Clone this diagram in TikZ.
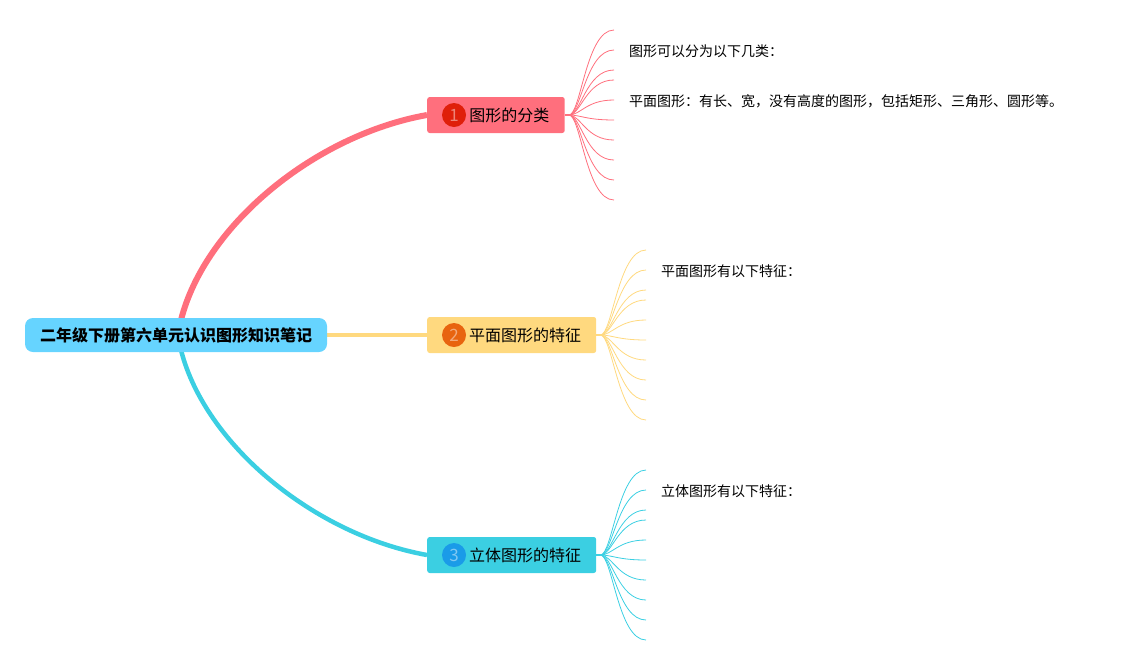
\documentclass[tikz,border=0pt]{standalone}
\usepackage{fontspec}
\setmainfont{Noto Sans CJK SC}
\definecolor{rootblue}{HTML}{66D4FF}
\definecolor{pinkline}{HTML}{FF6F7D}
\definecolor{yellowline}{HTML}{FFD97F}
\definecolor{cyanline}{HTML}{3BCFE2}
\definecolor{pinkdot}{HTML}{DF1F0A}
\definecolor{yellowdot}{HTML}{E8640F}
\definecolor{cyandot}{HTML}{1A9BE8}
\newcommand{\dn}[1]{\raisebox{-1pt}{#1}}
\tikzset{
    rootbox/.style={fill=rootblue, rounded corners=8pt, minimum width=302pt, minimum height=34pt, inner sep=0pt, font=\fontsize{16}{16}\selectfont\bfseries},
    branchbox/.style={fill=#1, rounded corners=2.5pt, minimum height=36pt, inner xsep=15pt, inner ysep=0pt, anchor=west, font=\fontsize{16}{16}\selectfont},
    numdot/.style={circle, fill=#1, minimum size=24pt, inner sep=0pt, text=white!45!#1, font=\fontsize{17}{17}\selectfont},
    leaftext/.style={anchor=west, inner xsep=15pt, inner ysep=0pt, yshift=-1pt, font=\fontsize{14}{15}\selectfont},
    mainline/.style={line width=#1},
    twig/.style={draw=#1, line width=0.8pt}
}
\begin{document}
\begin{tikzpicture}[x=1pt,y=-1pt]
    \useasboundingbox (0,0) rectangle (1123,665);

    \coordinate (up) at (181,320);
    \coordinate (down) at (181,350);
    \node[branchbox=pinkline, minimum width=137.5pt] (fenlei) at (427,115) {\hspace*{27pt}\dn{图形的分类}};
    \node[branchbox=yellowline, minimum width=169pt] (pingmian) at (427,335) {\hspace*{27pt}\dn{平面图形的特征}};
    \node[branchbox=cyanline, minimum width=169pt] (liti) at (427,555) {\hspace*{27pt}\dn{立体图形的特征}};

    \draw[mainline=6pt, pinkline] (up) .. controls (205,225) and (315,135) .. (fenlei.west);
    \draw[mainline=3.5pt, yellowline] (176,335) -- (pingmian.west);
    \draw[mainline=4.5pt, cyanline] (down) .. controls (205,445) and (315,535) .. (liti.west);

    \node[rootbox] (root) at (176,335) {\dn{二年级下册第六单元认识图形知识笔记}};

    \node[numdot=pinkdot] (n1) at (454,115) {1};
    \node[numdot=yellowdot] (n2) at (454,335) {2};
    \node[numdot=cyandot] (n3) at (454,555) {3};

    % ten twigs on each branch
    \foreach \name/\col/\ex/\base in {fenlei/pinkline/614/30, pingmian/yellowline/646/250, liti/cyanline/646/470} {
        \coordinate (hub) at ([xshift=4pt]\name.east);
        \draw[draw=\col, line width=2pt] (\name.east) -- (hub);
        \foreach \i/\dy in {1/0, 2/20, 3/40, 4/50, 5/70, 6/90, 7/110, 8/130, 9/150, 10/170} {
            \coordinate (\name\i) at (\ex,\base+\dy);
            \draw[twig=\col] (hub) .. controls +(12,0) and +(-28,0) .. (\name\i);
        }
    }

    \node[leaftext] (t1) at (fenlei2) {图形可以分为以下几类：};
    \node[leaftext] (t2) at (fenlei5) {平面图形：有长、宽，没有高度的图形，包括矩形、三角形、圆形等。};
    \node[leaftext] (t3) at (pingmian2) {平面图形有以下特征：};
    \node[leaftext] (t4) at (liti2) {立体图形有以下特征：};
\end{tikzpicture}
\end{document}
